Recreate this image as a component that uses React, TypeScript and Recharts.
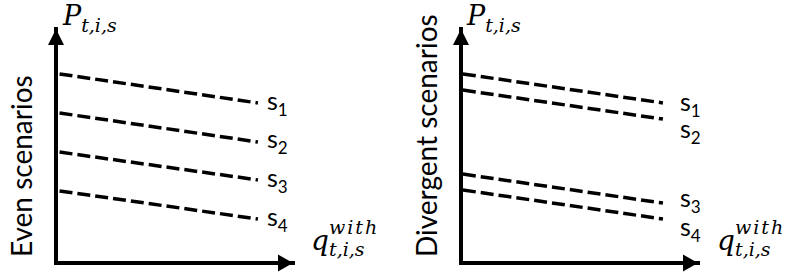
import { LineChart, Line, XAxis, YAxis, ReferenceDot } from "recharts";

// two points per scenario line: [start, end] in axis units (0..100)
const evenX = [1.5, 85.2];
const evenS1 = [80.8, 68.4];
const evenS2 = [64.1, 51.7];
const evenS3 = [47.4, 35.5];
const evenS4 = [30.8, 18.8];

const divergentX = [0.8, 85.2];
const divergentS1 = [80.8, 68.4];
const divergentS2 = [73.9, 61.5];
const divergentS3 = [38.0, 25.6];
const divergentS4 = [31.2, 18.8];

const scenarioNames = ["1", "2", "3", "4"];

const toPoints = (xs: number[], ys: number[]) => xs.map((x, i) => ({ x, y: ys[i] }));

const MATH = "DejaVu Serif";
const SANS = "Lato";

function ArrowRight({ cx, cy }: any) {
  return (
    <polygon
      points={`${cx},${cy} ${cx - 15},${cy - 8.5} ${cx - 15},${cy + 8.5}`}
      fill="#000"
    />
  );
}

function ArrowUp({ cx, cy }: any) {
  return (
    <polygon
      points={`${cx},${cy} ${cx - 8},${cy + 16} ${cx + 8},${cy + 16}`}
      fill="#000"
    />
  );
}

function PLabel({ cx, cy, dx }: any) {
  return (
    <g>
      <ArrowUp cx={cx} cy={cy} />
      <text x={cx + dx} y={cy - 4} fontFamily={MATH} fontStyle="italic" fontSize={27} fill="#000">
        P
        <tspan fontSize={19} dy={7}>t,i,s</tspan>
      </text>
    </g>
  );
}

function QLabel({ cx, cy, dx }: any) {
  const x = cx + dx;
  return (
    <g>
      <ArrowRight cx={cx} cy={cy} />
      <text x={x} y={cy - 13} fontFamily={MATH} fontStyle="italic" fontSize={28} fill="#000">
        q
      </text>
      <text
        x={x + 18}
        y={cy - 29}
        fontFamily={MATH}
        fontStyle="italic"
        fontSize={19}
        letterSpacing={2}
        fill="#000"
      >
        with
      </text>
      <text x={x + 18} y={cy - 7} fontFamily={MATH} fontStyle="italic" fontSize={19} fill="#000">
        t,i,s
      </text>
    </g>
  );
}

function SideTitle({ cx, cy, text }: any) {
  const x = cx - 24;
  const y = cy - 6;
  return (
    <text
      x={x}
      y={y}
      transform={`rotate(-90 ${x} ${y})`}
      fontFamily={SANS}
      fontSize={28}
      fill="#000"
    >
      {text}
    </text>
  );
}

const endLabel = (name: string, dx: number, dy: number) => (p: any) => {
  if (p.index !== 1) return <g />;
  return (
    <text x={p.x + dx} y={p.y + dy} fontFamily={SANS} fontSize={25} fill="#000">
      s
      <tspan fontSize={17} dy={6}>{name}</tspan>
    </text>
  );
};

interface PanelProps {
  title: string;
  xs: number[];
  series: number[][];
  labelOffsets: number[][];
  pDx: number;
  qDx: number;
}

function Panel({ title, xs, series, labelOffsets, pDx, qDx }: PanelProps) {
  return (
    <LineChart
      width={400}
      height={274}
      margin={{ top: 29, left: 55, right: 107, bottom: 10 }}
    >
      <XAxis
        type="number"
        dataKey="x"
        domain={[0, 100]}
        height={1}
        tick={false}
        tickLine={false}
        axisLine={{ stroke: "#000", strokeWidth: 4, strokeLinecap: "square" }}
        allowDuplicatedCategory={false}
      />
      <YAxis
        type="number"
        dataKey="y"
        domain={[0, 100]}
        width={1}
        tick={false}
        tickLine={false}
        axisLine={{ stroke: "#000", strokeWidth: 4, strokeLinecap: "square" }}
      />
      {series.map((ys, i) => (
        <Line
          key={i}
          data={toPoints(xs, ys)}
          dataKey="y"
          stroke="#000"
          strokeWidth={3.5}
          strokeDasharray="13 5"
          dot={false}
          activeDot={false}
          isAnimationActive={false}
          label={endLabel(scenarioNames[i], labelOffsets[i][0], labelOffsets[i][1])}
        />
      ))}
      <ReferenceDot x={0} y={100} r={0} shape={(p: any) => <PLabel {...p} dx={pDx} />} />
      <ReferenceDot x={100} y={0} r={0} shape={(p: any) => <QLabel {...p} dx={qDx} />} />
      <ReferenceDot x={0} y={0} r={0} shape={(p: any) => <SideTitle {...p} text={title} />} />
    </LineChart>
  );
}

export default function App() {
  return (
    <div style={{ position: "absolute", left: 0, top: 0, width: 789, height: 274, background: "#fff" }}>
      <div style={{ position: "absolute", left: 0, top: 0 }}>
        <Panel
          title="Even scenarios"
          xs={evenX}
          series={[evenS1, evenS2, evenS3, evenS4]}
          labelOffsets={[[9, 7], [9, 6], [9, 7], [9, 7]]}
          pDx={7}
          qDx={18}
        />
      </div>
      <div style={{ position: "absolute", left: 405, top: 0 }}>
        <Panel
          title="Divergent scenarios"
          xs={divergentX}
          series={[divergentS1, divergentS2, divergentS3, divergentS4]}
          labelOffsets={[[17, 8], [17, 19], [17, 4], [17, 17]]}
          pDx={6}
          qDx={19}
        />
      </div>
    </div>
  );
}
